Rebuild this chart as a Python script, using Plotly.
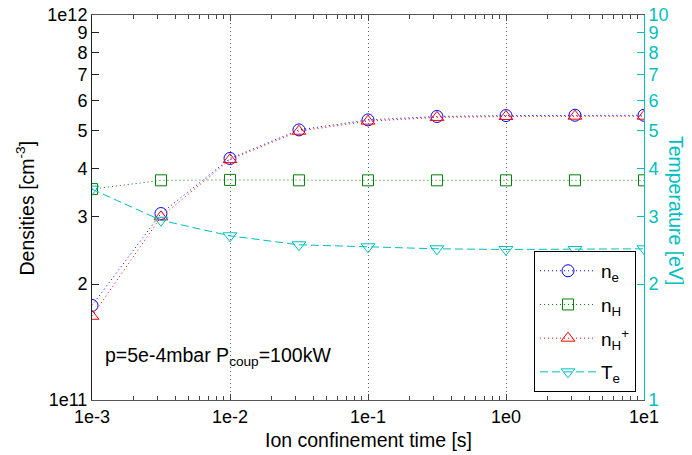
import plotly.graph_objects as go

# ---- data ----
tau = [0.001, 0.00316, 0.01, 0.0316, 0.1, 0.316, 1.0, 3.16, 10.0]
n_e = [1.76e11, 3.05e11, 4.24e11, 5.03e11, 5.34e11, 5.45e11, 5.48e11, 5.49e11, 5.49e11]
n_H = [3.53e11, 3.72e11, 3.73e11, 3.72e11, 3.72e11, 3.72e11, 3.72e11, 3.72e11, 3.72e11]
n_Hp = [1.65e11, 2.99e11, 4.21e11, 4.99e11, 5.30e11, 5.42e11, 5.45e11, 5.46e11, 5.46e11]
T_e = [3.53, 2.93, 2.67, 2.53, 2.50, 2.47, 2.46, 2.46, 2.47]

x_ticks = [1e-3, 1e-2, 1e-1, 1e0, 1e1]
x_ticktext = ["1e-3", "1e-2", "1e-1", "1e0", "1e1"]
x_minor = [m * d for d in [1e-3, 1e-2, 1e-1, 1e0] for m in range(2, 10)]
yl_ticks = [1e11, 2e11, 3e11, 4e11, 5e11, 6e11, 7e11, 8e11, 9e11, 1e12]
yl_ticktext = ["1e11", "2", "3", "4", "5", "6", "7", "8", "9", "1e12"]
yr_ticks = [1, 2, 3, 4, 5, 6, 7, 8, 9, 10]
yr_ticktext = [str(v) for v in yr_ticks]

BLUE = "rgb(0,0,255)"
GREEN = "rgb(0,128,0)"
RED = "rgb(255,0,0)"
CYAN = "rgb(0,191,191)"
FONT = "Liberation Sans, Arial, sans-serif"
FS = 18
FT = 19.5
DOT = "1px,3px"
DASH = "8px,4px"

fig = go.Figure()
fig.add_trace(go.Scatter(x=tau, y=n_e, name="n<sub>e</sub>", mode="lines+markers",
                         line=dict(color=BLUE, dash=DOT, width=1),
                         marker=dict(symbol="circle-open", size=12, color=BLUE, line=dict(width=1)),
                         legendgroup="a"))
fig.add_trace(go.Scatter(x=tau, y=n_H, name="n<sub>H</sub>", mode="lines+markers",
                         line=dict(color=GREEN, dash=DOT, width=1),
                         marker=dict(symbol="square-open", size=11, color=GREEN, line=dict(width=1)),
                         legendgroup="b"))
fig.add_trace(go.Scatter(x=tau, y=n_Hp, name="n<sub>H</sub><sup>+</sup>", mode="lines+markers",
                         line=dict(color=RED, dash=DOT, width=1),
                         marker=dict(symbol="triangle-up-open", size=12, color=RED, line=dict(width=1)),
                         legendgroup="c"))
fig.add_trace(go.Scatter(x=tau, y=T_e, name="T<sub>e</sub>", mode="lines+markers", yaxis="y2",
                         line=dict(color=CYAN, dash=DASH, width=1),
                         marker=dict(symbol="triangle-down-open", size=12, color=CYAN, line=dict(width=1)),
                         legendgroup="d"))

fig.add_annotation(text="p=5e-4mbar P<sub>coup</sub>=100kW", xref="paper", yref="paper",
                   x=0.02, y=0.112, xanchor="left", yanchor="middle", showarrow=False,
                   font=dict(size=FT, color="black", family=FONT))
# axis titles
fig.add_annotation(text="Ion confinement time [s]", xref="paper", yref="paper",
                   x=0.5, y=-0.104, xanchor="center", yanchor="middle", showarrow=False,
                   font=dict(size=FT, color="black", family=FONT))
fig.add_annotation(text="Densities [cm<sup>-3</sup>]", xref="paper", yref="paper",
                   x=-0.1214, y=0.5, xanchor="center", yanchor="middle", showarrow=False,
                   textangle=-90, font=dict(size=FT, color="black", family=FONT))
fig.add_annotation(text="Temperature [eV]", xref="paper", yref="paper",
                   x=1.057, y=0.49, xanchor="center", yanchor="middle", showarrow=False,
                   textangle=90, font=dict(size=FT, color=CYAN, family=FONT))

# the page body adds an 8 px offset, so the figure is 8 px smaller on each side
fig.update_layout(
    width=684, height=447,
    margin=dict(l=84, r=48, t=7, b=55, autoexpand=False),
    paper_bgcolor="white", plot_bgcolor="white",
    font=dict(family=FONT, size=FS, color="black"),
    showlegend=True,
    legend=dict(x=0.9855, y=0.021, xanchor="right", yanchor="bottom",
                bordercolor="black", borderwidth=1, bgcolor="white",
                font=dict(size=FS + 1, family=FONT), itemwidth=56, tracegroupgap=6),
    xaxis=dict(type="log", range=[-3, 1], tickvals=x_ticks, ticktext=x_ticktext,
               ticks="inside", ticklen=6, tickcolor="#444", showline=True, linecolor="#555",
               mirror="ticks", showgrid=True, gridcolor="#666", griddash="1px,3px", gridwidth=1,
               zeroline=False, automargin=False, ticklabeloverflow="allow",
               minor=dict(tickvals=x_minor, ticks="inside", ticklen=4, tickcolor="#444", showgrid=False),
               tickfont=dict(size=FS)),
    yaxis=dict(type="log", range=[11, 12], tickvals=yl_ticks, ticktext=yl_ticktext,
               ticks="inside", ticklen=7, tickcolor="#222", showline=True, linecolor="#222",
               showgrid=False, zeroline=False, automargin=False, ticklabeloverflow="allow",
               tickfont=dict(size=FS)),
    yaxis2=dict(type="log", range=[0, 1], tickvals=yr_ticks, ticktext=yr_ticktext,
                overlaying="y", side="right", ticks="inside", ticklen=7, tickcolor=CYAN,
                showline=True, linecolor=CYAN, showgrid=False, zeroline=False, automargin=False,
                ticklabeloverflow="allow", tickfont=dict(size=FS, color=CYAN)),
)

fig.write_html("out.html")
